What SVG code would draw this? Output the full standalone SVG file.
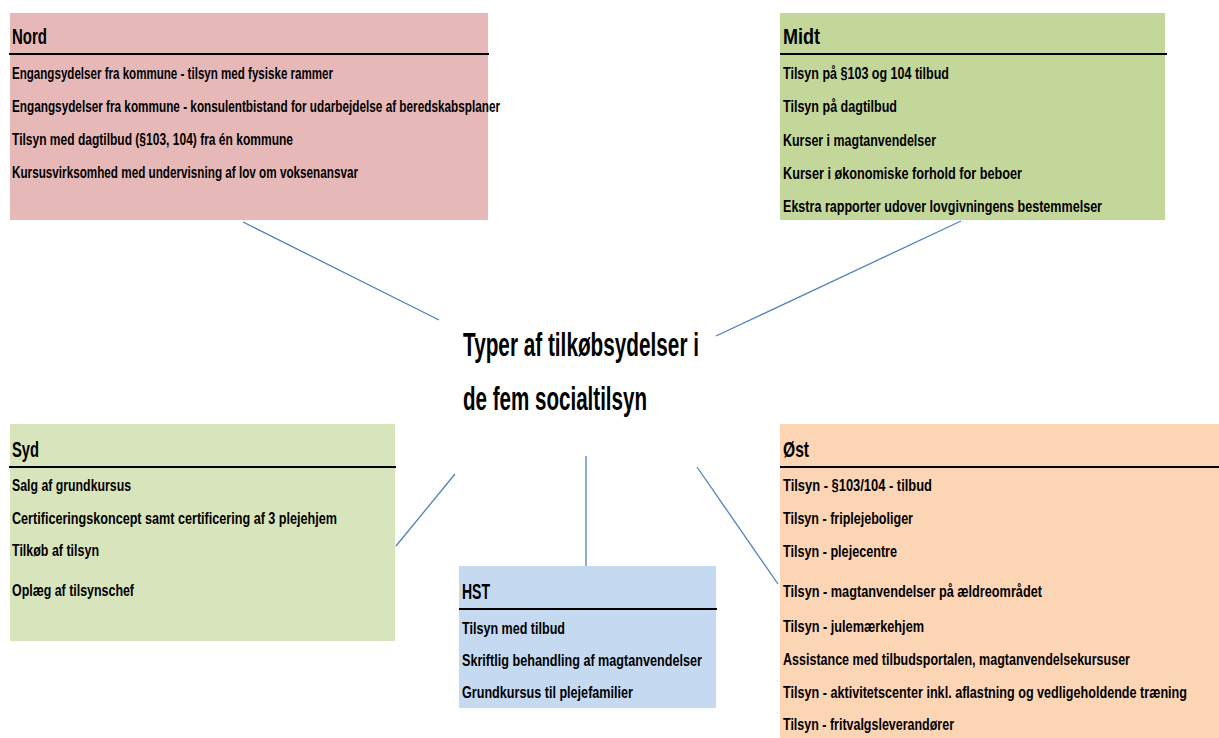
<svg xmlns="http://www.w3.org/2000/svg" width="1219" height="738" viewBox="0 0 1219 738">
<style>
text{font-family:"Liberation Sans",Arial,sans-serif;font-weight:bold;fill:#000}
.t{font-size:22px}
.i{font-size:16px}
.s{font-size:11px}
.c{font-size:33px}
.hl{stroke:#000;stroke-width:2}
.cn{stroke:#4F81BD;stroke-width:1.3;fill:none}
</style>
<rect width="1219" height="738" fill="#fff"/>
<g id="connectors">
<line class="cn" x1="243" y1="222" x2="439" y2="320"/>
<line class="cn" x1="961" y1="221" x2="716" y2="336"/>
<line class="cn" x1="396" y1="546" x2="455" y2="474"/>
<line class="cn" x1="586" y1="456" x2="586" y2="566"/>
<line class="cn" x1="697" y1="467" x2="778" y2="584"/>
</g>
<g id="center">
<text class="c" x="463" y="356" textLength="236" lengthAdjust="spacingAndGlyphs">Typer af tilkøbsydelser i</text>
<text class="c" x="463" y="410" textLength="184" lengthAdjust="spacingAndGlyphs">de fem socialtilsyn</text>
</g>
<g id="nord">
<rect x="10" y="13" width="478" height="207" fill="#E6B8B7"/>
<line class="hl" x1="9" y1="54" x2="489" y2="54"/>
<text class="t" x="12" y="44" textLength="35" lengthAdjust="spacingAndGlyphs">Nord</text>
<text class="i" x="12" y="79" textLength="321" lengthAdjust="spacingAndGlyphs">Engangsydelser fra kommune - tilsyn med fysiske rammer</text>
<text class="i" x="12" y="112" textLength="488" lengthAdjust="spacingAndGlyphs">Engangsydelser fra kommune - konsulentbistand for udarbejdelse af beredskabsplaner</text>
<text class="i" x="12" y="145" textLength="281" lengthAdjust="spacingAndGlyphs">Tilsyn med dagtilbud (§103, 104) fra én kommune</text>
<text class="i" x="12" y="178" textLength="346" lengthAdjust="spacingAndGlyphs">Kursusvirksomhed med undervisning af lov om voksenansvar</text>
</g>
<g id="midt">
<rect x="780" y="13" width="385" height="207" fill="#C4D79B"/>
<line class="hl" x1="780" y1="54" x2="1167" y2="54"/>
<text class="t" x="783" y="44" textLength="37" lengthAdjust="spacingAndGlyphs">Midt</text>
<text class="i" x="783" y="79" textLength="166" lengthAdjust="spacingAndGlyphs">Tilsyn på §103 og 104 tilbud</text>
<text class="i" x="783" y="112" textLength="114" lengthAdjust="spacingAndGlyphs">Tilsyn på dagtilbud</text>
<text class="i" x="783" y="146" textLength="153" lengthAdjust="spacingAndGlyphs">Kurser i magtanvendelser</text>
<text class="i" x="783" y="179" textLength="239" lengthAdjust="spacingAndGlyphs">Kurser i økonomiske forhold for beboer</text>
<text class="i" x="783" y="212" textLength="319" lengthAdjust="spacingAndGlyphs">Ekstra rapporter udover lovgivningens bestemmelser</text>
</g>
<g id="syd">
<rect x="10" y="424" width="385" height="217" fill="#D8E4BC"/>
<line class="hl" x1="9" y1="467" x2="396" y2="467"/>
<text class="t" x="12" y="457" textLength="27" lengthAdjust="spacingAndGlyphs">Syd</text>
<text class="i" x="12" y="491" textLength="119" lengthAdjust="spacingAndGlyphs">Salg af grundkursus</text>
<text class="i" x="12" y="524" textLength="325" lengthAdjust="spacingAndGlyphs">Certificeringskoncept samt certificering af 3 plejehjem</text>
<text class="i" x="12" y="556" textLength="87" lengthAdjust="spacingAndGlyphs">Tilkøb af tilsyn</text>
<text class="i" x="12" y="596" textLength="122" lengthAdjust="spacingAndGlyphs">Oplæg af tilsynschef</text>
</g>
<g id="hst">
<rect x="459" y="566" width="257" height="142" fill="#C5D9F1"/>
<line class="hl" x1="459" y1="609" x2="717" y2="609"/>
<text class="t" x="462" y="599" textLength="28" lengthAdjust="spacingAndGlyphs">HST</text>
<text class="i" x="462" y="634" textLength="103" lengthAdjust="spacingAndGlyphs">Tilsyn med tilbud</text>
<text class="i" x="462" y="666" textLength="240" lengthAdjust="spacingAndGlyphs">Skriftlig behandling af magtanvendelser</text>
<text class="i" x="462" y="698" textLength="171" lengthAdjust="spacingAndGlyphs">Grundkursus til plejefamilier</text>
</g>
<g id="ost">
<rect x="780" y="424" width="439" height="314" fill="#FCD5B4"/>
<line class="hl" x1="780" y1="467" x2="1219" y2="467"/>
<text class="t" x="783" y="457" textLength="26" lengthAdjust="spacingAndGlyphs">Øst</text>
<text class="i" x="783" y="491" textLength="149" lengthAdjust="spacingAndGlyphs">Tilsyn - §103/104 - tilbud</text>
<text class="i" x="783" y="524" textLength="130" lengthAdjust="spacingAndGlyphs">Tilsyn - friplejeboliger</text>
<text class="i" x="783" y="557" textLength="114" lengthAdjust="spacingAndGlyphs">Tilsyn - plejecentre</text>
<text class="i" x="783" y="597" textLength="259" lengthAdjust="spacingAndGlyphs">Tilsyn - magtanvendelser på ældreområdet</text>
<text class="i" x="783" y="632" textLength="141" lengthAdjust="spacingAndGlyphs">Tilsyn - julemærkehjem</text>
<text class="s" transform="translate(783,665) scale(1,1.4545)" x="0" y="0" textLength="347" lengthAdjust="spacingAndGlyphs">Assistance med tilbudsportalen, magtanvendelsekursuser</text>
<text class="s" transform="translate(783,698) scale(1,1.4545)" x="0" y="0" textLength="404" lengthAdjust="spacingAndGlyphs">Tilsyn - aktivitetscenter inkl. aflastning og vedligeholdende træning</text>
<text class="i" x="783" y="730" textLength="171" lengthAdjust="spacingAndGlyphs">Tilsyn - fritvalgsleverandører</text>
</g>
</svg>
